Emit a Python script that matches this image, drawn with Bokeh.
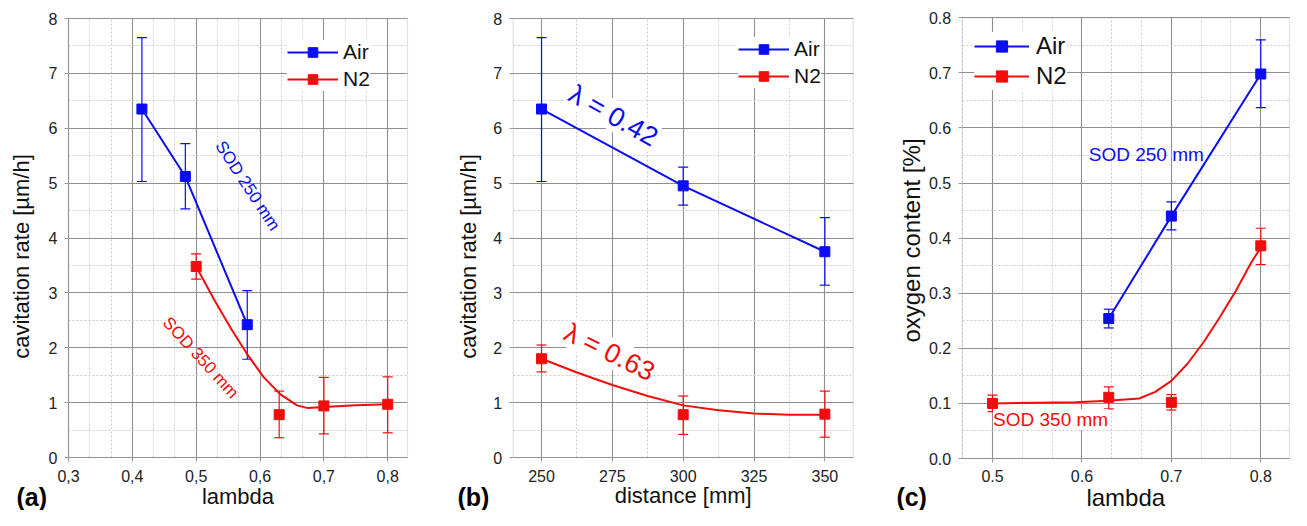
import numpy as np
from bokeh.plotting import figure
from bokeh.models import (ColumnDataSource, Whisker, TeeHead, Legend, LegendItem,
                          Label, FixedTicker, Range1d, BoxAnnotation, Grid)
from bokeh.layouts import row
from bokeh.embed import file_html
from bokeh.resources import INLINE

FONT = "Liberation Sans"
BLUE = "#0c0cf2"
RED = "#f20c0c"
H = 510

# ---------------- panel (a): cavitation rate vs lambda ----------------
a_air_lambda = [0.415, 0.483, 0.580]
a_air_rate = [6.35, 5.12, 2.42]
a_air_lo = [5.03, 4.53, 1.79]
a_air_hi = [7.65, 5.72, 3.04]

a_n2_lambda = [0.50, 0.63, 0.70, 0.80]
a_n2_rate = [3.48, 0.78, 0.94, 0.97]
a_n2_lo = [3.25, 0.36, 0.43, 0.45]
a_n2_hi = [3.71, 1.21, 1.46, 1.47]

a_fit_lambda = [0.500, 0.528, 0.554, 0.580, 0.606, 0.632, 0.658, 0.675, 0.700, 0.750, 0.800]
a_fit_rate = [3.48, 2.88, 2.36, 1.88, 1.46, 1.15, 0.95, 0.90, 0.92, 0.95, 0.97]

a_x_ticks = [0.3, 0.4, 0.5, 0.6, 0.7, 0.8]
a_x_labels = ["0,3", "0,4", "0,5", "0,6", "0,7", "0,8"]
a_y_ticks = [0, 1, 2, 3, 4, 5, 6, 7, 8]
a_y_labels = ["0", "1", "2", "3", "4", "5", "6", "7", "8"]

# ---------------- panel (b): cavitation rate vs distance ----------------
b_dist = [250, 300, 350]
b_air_rate = [6.35, 4.95, 3.75]
b_air_lo = [5.03, 4.60, 3.14]
b_air_hi = [7.65, 5.29, 4.37]

b_n2_rate = [1.80, 0.78, 0.79]
b_n2_lo = [1.56, 0.42, 0.37]
b_n2_hi = [2.05, 1.12, 1.21]

b_fit_dist = [250, 262.5, 275, 287.5, 300, 312.5, 325, 337.5, 350]
b_fit_rate = [1.80, 1.55, 1.32, 1.12, 0.95, 0.86, 0.80, 0.78, 0.78]

b_x_ticks = [250, 275, 300, 325, 350]
b_x_labels = ["250", "275", "300", "325", "350"]
b_y_ticks = a_y_ticks
b_y_labels = a_y_labels

# ---------------- panel (c): oxygen content vs lambda ----------------
c_air_lambda = [0.63, 0.70, 0.80]
c_air_oxy = [0.254, 0.440, 0.698]
c_air_lo = [0.237, 0.415, 0.637]
c_air_hi = [0.271, 0.466, 0.760]

c_n2_lambda = [0.50, 0.63, 0.70, 0.80]
c_n2_oxy = [0.100, 0.111, 0.102, 0.386]
c_n2_lo = [0.085, 0.090, 0.088, 0.352]
c_n2_hi = [0.115, 0.130, 0.116, 0.418]

c_fit_lambda = [0.500, 0.593, 0.629, 0.664, 0.682, 0.700, 0.718, 0.736, 0.754, 0.772, 0.789, 0.800]
c_fit_oxy = [0.100, 0.102, 0.105, 0.109, 0.121, 0.141, 0.172, 0.211, 0.256, 0.304, 0.355, 0.383]

c_x_ticks = [0.5, 0.6, 0.7, 0.8]
c_x_labels = ["0.5", "0.6", "0.7", "0.8"]
c_y_ticks = [0.0, 0.1, 0.2, 0.3, 0.4, 0.5, 0.6, 0.7, 0.8]
c_y_labels = ["0.0", "0.1", "0.2", "0.3", "0.4", "0.5", "0.6", "0.7", "0.8"]

HAS_CROSS = "cross_bounds" in Grid.properties()


def minor_between(ticks, parts, lo, hi):
    step = (ticks[1] - ticks[0]) / parts
    vals = np.arange(ticks[0] - 3 * parts * step, ticks[-1] + 3 * parts * step, step)
    return [float(v) for v in vals if lo <= v <= hi]


def make_fig(width, vx, vy, borders, xt, xl, xminor, yt, yl, yminor, x_std):
    """The whole canvas is the frame; the visible plot box (vx, vy) sits inside
    it at the given pixel borders, with fixed-location axes on its edges."""
    bl, br, bt, bb = borders
    ppx = (width - bl - br) / (vx[1] - vx[0])
    ppy = (H - bt - bb) / (vy[1] - vy[0])
    xr = Range1d(vx[0] - bl / ppx, vx[1] + br / ppx)
    yr = Range1d(vy[0] - bb / ppy, vy[1] + bt / ppy)
    p = figure(width=width, height=H, x_range=xr, y_range=yr,
               output_backend="svg", toolbar_location=None, min_border=0,
               min_border_left=0, min_border_right=0, min_border_top=0, min_border_bottom=0)
    p.background_fill_color = "white"
    p.border_fill_color = "white"
    p.outline_line_color = None
    p.xaxis.ticker = FixedTicker(ticks=xt, minor_ticks=xminor)
    p.yaxis.ticker = FixedTicker(ticks=yt, minor_ticks=yminor)
    p.xaxis.major_label_overrides = dict(zip(xt, xl))
    p.yaxis.major_label_overrides = dict(zip(yt, yl))
    p.xaxis.fixed_location = vy[0]
    p.yaxis.fixed_location = vx[0]
    p.xaxis.bounds = (vx[0], vx[1])
    p.yaxis.bounds = (vy[0], vy[1])
    for ax in (p.xaxis, p.yaxis):
        ax.axis_line_color = None
        ax.major_tick_line_color = "#9a9a9a"
        ax.major_tick_line_width = 1.2
        ax.major_tick_out = 4
        ax.major_tick_in = 0
        ax.minor_tick_out = 0
        ax.minor_tick_in = 0
        ax.major_label_text_font = FONT
        ax.major_label_text_font_size = "16px"
        ax.major_label_text_color = "#222222"
    p.xaxis.major_label_standoff = x_std
    p.yaxis.major_label_standoff = 7
    for g in (p.xgrid, p.ygrid):
        g.grid_line_color = "#8e8e8e"
        g.grid_line_width = 1.1
        g.minor_grid_line_color = "#cccccc"
        g.minor_grid_line_width = 1
        g.minor_grid_line_dash = "2 2"
    if HAS_CROSS:
        p.xgrid.cross_bounds = (vy[0], vy[1])
        p.ygrid.cross_bounds = (vx[0], vx[1])
    p.add_layout(BoxAnnotation(left=vx[0], right=vx[1], bottom=vy[0], top=vy[1],
                               fill_alpha=0, line_color="#9a9a9a", line_width=1.2))
    return p


def add_series(p, x, y, lo, hi, color, fit_x=None, fit_y=None):
    src = ColumnDataSource(dict(x=x, y=y, lo=lo, hi=hi))
    w = Whisker(source=src, base="x", lower="lo", upper="hi", dimension="height",
                line_color=color, line_width=1.2,
                upper_head=TeeHead(size=10, line_color=color, line_width=1.2),
                lower_head=TeeHead(size=10, line_color=color, line_width=1.2))
    p.add_layout(w)
    if fit_x is None:
        ln = p.line("x", "y", source=src, line_color=color, line_width=2)
    else:
        ln = p.line(fit_x, fit_y, line_color=color, line_width=2)
    sq = p.scatter("x", "y", source=src, marker="square", size=10,
                   fill_color=color, line_color=color)
    return [ln, sq]


def add_legend(p, air_r, n2_r, loc, font_size, glyph_w, glyph_h, spacing, standoff):
    leg = Legend(items=[LegendItem(label="Air", renderers=air_r),
                        LegendItem(label="N2", renderers=n2_r)],
                 location=loc, margin=0, padding=4, spacing=spacing,
                 glyph_width=glyph_w, glyph_height=glyph_h, label_height=glyph_h,
                 label_standoff=standoff, label_text_font=FONT,
                 label_text_font_size=font_size, label_text_color="#111111",
                 border_line_color=None, background_fill_color="white",
                 background_fill_alpha=1.0)
    p.add_layout(leg)


def note(p, x, y, text, color, size, angle=0.0, bg=None, style="normal",
         align="center", baseline="middle"):
    lab = Label(x=x, y=y, text=text, angle=angle, text_align=align,
                text_baseline=baseline, text_color=color, text_font=FONT,
                text_font_size=size, text_font_style=style)
    if bg is not None:
        lab.background_fill_color = bg
        lab.background_fill_alpha = 1.0
    p.add_layout(lab)


def tag(p, x, y, text):
    note(p, x, y, text, "#000000", "25px", style="bold", align="left")


# ---- figure a  (x 0..440)
pa = make_fig(440, (0.3, 0.831), (0, 8), (68, 33, 18, 53),
              a_x_ticks, a_x_labels, minor_between(a_x_ticks, 3, 0.3, 0.831),
              a_y_ticks, a_y_labels, minor_between(a_y_ticks, 2, 0, 8), 8)
ra_air = add_series(pa, a_air_lambda, a_air_rate, a_air_lo, a_air_hi, BLUE)
ra_n2 = add_series(pa, a_n2_lambda, a_n2_rate, a_n2_lo, a_n2_hi, RED, a_fit_lambda, a_fit_rate)
add_legend(pa, ra_air, ra_n2, (287, 419), "21px", 51, 24, 3, 5)
note(pa, 0.5806, 4.95, "SOD 250 mm", BLUE, "17px", angle=-0.99)
note(pa, 0.507, 1.82, "SOD 350 mm", RED, "17px", angle=-0.83)
note(pa, 0.2263, 3.663, "cavitation rate [µm/h]", "#111111", "22px", angle=np.pi / 2)
note(pa, 0.5655, -0.716, "lambda", "#111111", "22px")
tag(pa, 0.2185, -0.716, "(a)")

# ---- figure b  (x 440..880)
pb = make_fig(440, (240, 360), (0, 8), (72.7, 27.3, 18, 53),
              b_x_ticks, b_x_labels, minor_between(b_x_ticks, 2, 240, 360),
              b_y_ticks, b_y_labels, minor_between(b_y_ticks, 2, 0, 8), 8)
rb_air = add_series(pb, b_dist, b_air_rate, b_air_lo, b_air_hi, BLUE)
rb_n2 = add_series(pb, b_dist, b_n2_rate, b_n2_lo, b_n2_hi, RED, b_fit_dist, b_fit_rate)
add_legend(pb, rb_air, rb_n2, (298, 422), "21px", 51, 24, 3, 5)
note(pb, 275.4, 6.23, "λ = 0.42", BLUE, "27px", angle=-0.51, bg="white")
note(pb, 274.0, 1.92, "λ = 0.63", RED, "27px", angle=-0.46, bg="white")
note(pb, 224.2, 3.663, "cavitation rate [µm/h]", "#111111", "22px", angle=np.pi / 2)
note(pb, 300.0, -0.698, "distance [mm]", "#111111", "22px")
tag(pb, 220.3, -0.716, "(b)")

# ---- figure c  (x 880..1291)
pc = make_fig(411, (0.4661, 0.8321), (0, 0.8), (81.7, 2, 17.3, 52),
              c_x_ticks, c_x_labels, minor_between(c_x_ticks, 3, 0.4661, 0.8321),
              c_y_ticks, c_y_labels, minor_between(c_y_ticks, 2, 0, 0.8), 7)
rc_air = add_series(pc, c_air_lambda, c_air_oxy, c_air_lo, c_air_hi, BLUE)
rc_n2 = add_series(pc, c_n2_lambda, c_n2_oxy, c_n2_lo, c_n2_hi, RED, c_fit_lambda, c_fit_oxy)
add_legend(pc, rc_air, rc_n2, (94, 420), "24px", 55, 28, 2, 7)
note(pc, 0.672, 0.551, "SOD 250 mm", BLUE, "19px")
note(pc, 0.565, 0.0707, "SOD 350 mm", RED, "19px", bg="white")
note(pc, 0.4091, 0.3957, "oxygen content [%]", "#111111", "24px", angle=np.pi / 2)
note(pc, 0.649, -0.0701, "lambda", "#111111", "24px")
tag(pc, 0.3925, -0.0695, "(c)")

layout = row(pa, pb, pc, spacing=0)
open("out.html", "w").write(file_html(layout, INLINE))
